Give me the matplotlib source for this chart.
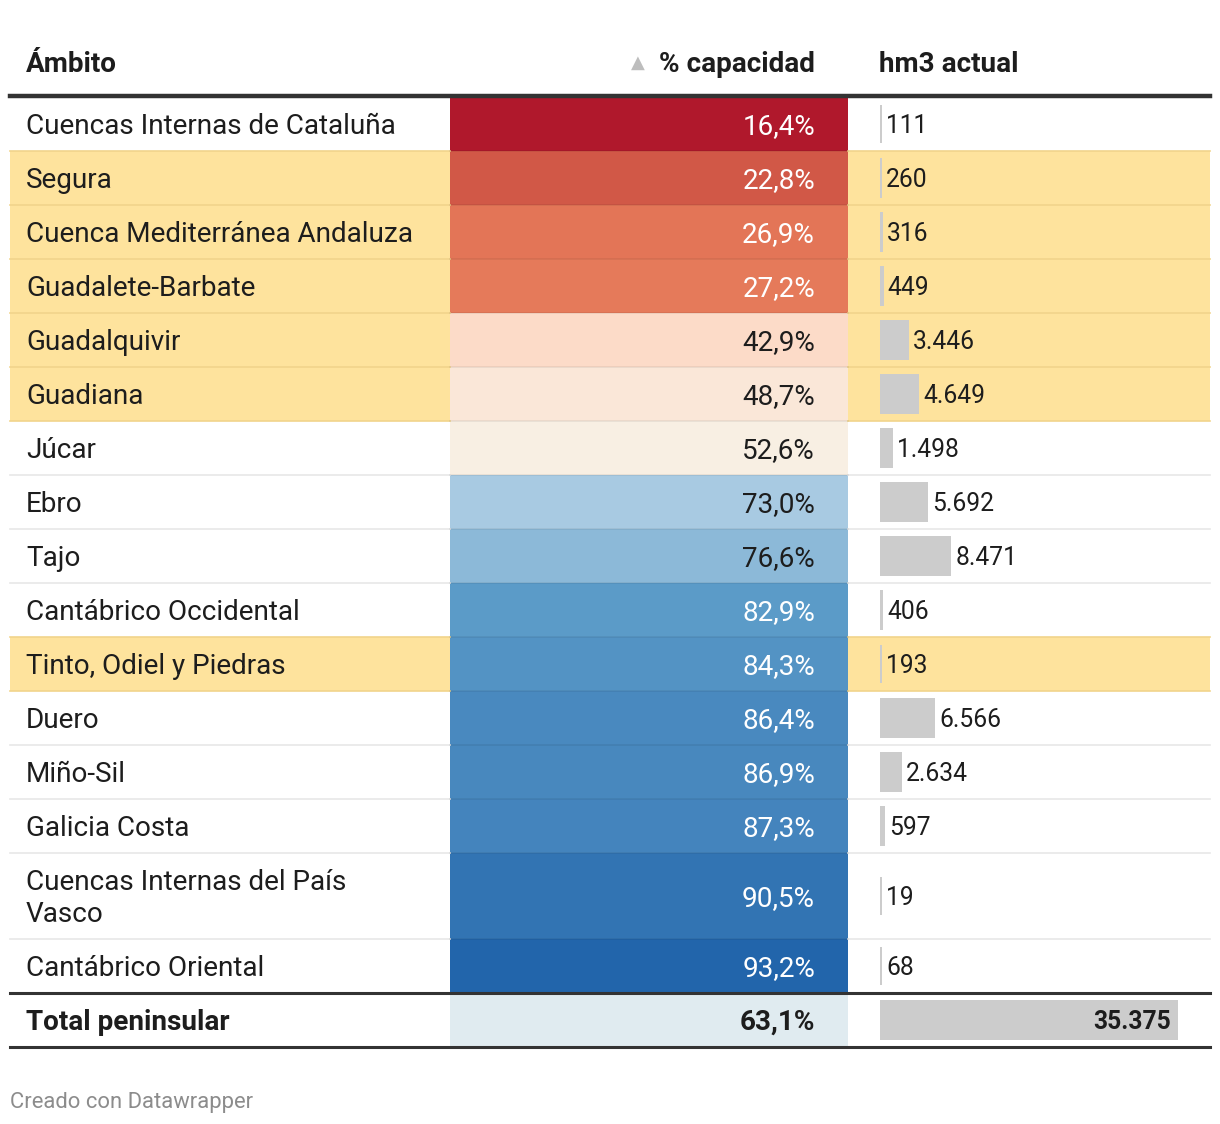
import matplotlib
matplotlib.use("Agg")
import matplotlib.pyplot as plt
from matplotlib.colors import LinearSegmentedColormap, Normalize
from matplotlib.patches import Rectangle

plt.rcParams['font.family'] = ['Roboto', 'DejaVu Sans']

# data
ambitos = ["Cuencas Internas de Cataluña", "Segura", "Cuenca Mediterránea Andaluza",
           "Guadalete-Barbate", "Guadalquivir", "Guadiana", "Júcar", "Ebro", "Tajo",
           "Cantábrico Occidental", "Tinto, Odiel y Piedras", "Duero", "Miño-Sil",
           "Galicia Costa", "Cuencas Internas del País\nVasco", "Cantábrico Oriental"]
capacidad = [16.4, 22.8, 26.9, 27.2, 42.9, 48.7, 52.6, 73.0, 76.6, 82.9, 84.3, 86.4,
             86.9, 87.3, 90.5, 93.2]
hm3 = [111, 260, 316, 449, 3446, 4649, 1498, 5692, 8471, 406, 193, 6566, 2634, 597, 19, 68]
destacado = ["Segura", "Cuenca Mediterránea Andaluza", "Guadalete-Barbate",
             "Guadalquivir", "Guadiana", "Tinto, Odiel y Piedras"]
total_label = "Total peninsular"
total_cap = 63.1
total_hm3 = 35375

# colour scale for the % column
stops = [(16.4, "#b0182c"), (22.8, "#d15947"), (27.0, "#e57858"), (42.9, "#fcdbc8"),
         (52.6, "#f8efe3"), (73.0, "#a8cae2"), (82.9, "#5b9bc8"), (87.0, "#4787be"),
         (93.2, "#2265ab")]
lo, hi = stops[0][0], stops[-1][0]
cmap = LinearSegmentedColormap.from_list(
    "cap", [((v - lo) / (hi - lo), c) for v, c in stops])
norm = Normalize(lo, hi)


def fmt_pct(v):
    return f"{v:.1f}".replace(".", ",") + "%"


def fmt_int(v):
    return f"{v:,}".replace(",", ".")


W, H = 1220, 1124
fig = plt.figure(figsize=(W / 100, H / 100), dpi=100)
ax = fig.add_axes([0, 0, 1, 1])
ax.set_xlim(0, W)
ax.set_ylim(H, 0)
ax.axis("off")

PX = 0.72  # px -> pt
FS = 27.9 * PX
FS_NUM = 24.6 * PX
x0, x1, x2, x3 = 10, 450, 848, 1210
bar_x, bar_max = 880, 298
scale = bar_max / total_hm3
dark = "#1d1d1d"

# header
hy = 72
ax.text(26, hy, "Ámbito", fontsize=FS, fontweight="bold", color=dark, va="baseline")
ax.text(815, hy, "% capacidad", fontsize=FS, fontweight="bold", color=dark,
        va="baseline", ha="right")
ax.text(638, 68, "▲", fontsize=18 * PX, color="#bdbdbd", va="baseline", ha="center",
        family=["DejaVu Sans"])
ax.text(879, hy, "hm3 actual", fontsize=FS, fontweight="bold", color=dark, va="baseline")

y = 97
prev_hl = False
for name, cap, val in zip(ambitos, capacidad, hm3):
    h = 86 if "\n" in name else 54
    mid = y + h / 2
    hl = name in destacado
    if hl:
        ax.add_patch(Rectangle((x0, y), x3 - x0, h, color="#fee39d", lw=0, zorder=0))
    # cell colour
    ax.add_patch(Rectangle((x1, y), x2 - x1, h, color=cmap(norm(cap)), lw=0, zorder=1))
    # separators
    if y > 97:
        sep = "#f1d48b" if hl or prev_hl else "#e8e8e8"
        ax.plot([x0, x1], [y, y], color=sep, lw=1.2, zorder=2)
        ax.plot([x2, x3], [y, y], color=sep, lw=1.2, zorder=2)
        ax.plot([x1, x2], [y, y], color="black", alpha=0.07, lw=1.2, zorder=2)
    # label
    if "\n" in name:
        l1, l2 = name.split("\n")
        ax.text(26, mid - 6, l1, fontsize=FS, color=dark, va="baseline")
        ax.text(26, mid + 26, l2, fontsize=FS, color=dark, va="baseline")
    else:
        ax.text(26, mid + 10, name, fontsize=FS, color=dark, va="baseline")
    light = 40 < cap < 80
    ax.text(815, mid + 10, fmt_pct(cap), fontsize=FS, va="baseline", ha="right",
            color=dark if light else "white")
    # hm3 bar
    bw = max(val * scale, 2)
    bh = 38 if bw <= 2 else 40
    ax.barh(mid, bw, height=bh, left=bar_x, color="#cccccc", zorder=3)
    ax.text(bar_x + bw + 4, mid + 9, fmt_int(val), fontsize=FS_NUM, color=dark,
            va="baseline")
    prev_hl = hl
    y += h

# body/total separator
ax.plot([x0, x3], [y, y], color="#333333", lw=2.2, zorder=4)
mid = y + 27
ax.add_patch(Rectangle((x1, y), x2 - x1, 54, color="#e0ebf0", lw=0, zorder=1))
ax.text(26, mid + 10, total_label, fontsize=FS, fontweight="bold", color=dark, va="baseline")
ax.text(815, mid + 10, fmt_pct(total_cap), fontsize=FS, fontweight="bold", color=dark,
        va="baseline", ha="right")
ax.barh(mid, total_hm3 * scale, height=40, left=bar_x, color="#cccccc", zorder=3)
ax.text(bar_x + total_hm3 * scale - 7, mid + 9, fmt_int(total_hm3), fontsize=FS_NUM,
        fontweight="bold", color=dark, va="baseline", ha="right")
ax.plot([x0, x3], [y + 54, y + 54], color="#333333", lw=2.2, zorder=4)

# header rule
ax.plot([x0, x3], [96, 96], color="#333333", lw=3.2, zorder=4)

ax.text(10, 1108, "Creado con Datawrapper", fontsize=22 * PX, color="#8c8c8c", va="baseline")

fig.savefig("out.png", dpi=100, facecolor="white")
